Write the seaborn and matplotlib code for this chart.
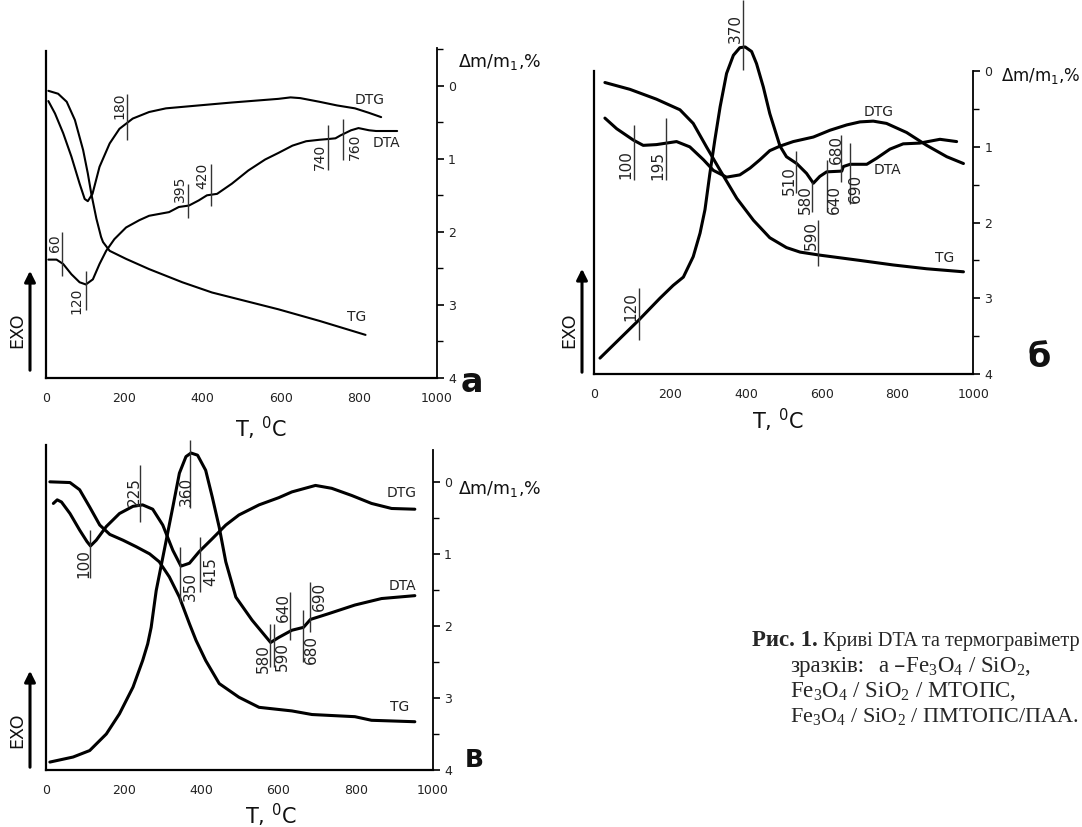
import matplotlib
matplotlib.use("Agg")
import matplotlib.pyplot as plt
import seaborn as sns

W, H = 1082, 827

# ---------------- data (T in degC, y in right-axis units, axis inverted) ----------------
# panel a : Fe3O4 / SiO2
a_tg_t = [5, 30, 52, 73, 94, 106, 115, 128, 140, 145, 162, 204, 263, 348, 424, 594, 700, 817]
a_tg_y = [0.07, 0.11, 0.22, 0.47, 0.88, 1.20, 1.48, 1.82, 2.07, 2.14, 2.26, 2.37, 2.51, 2.69, 2.83, 3.06, 3.22, 3.41]
a_dtg_t = [5, 22, 43, 64, 85, 98, 106, 118, 136, 162, 187, 221, 263, 306, 390, 475, 594, 625, 650, 699,
           744, 790, 825, 857]
a_dtg_y = [0.21, 0.38, 0.65, 0.97, 1.34, 1.55, 1.58, 1.48, 1.11, 0.79, 0.59, 0.45, 0.36, 0.31, 0.27, 0.23,
           0.18, 0.16, 0.17, 0.22, 0.27, 0.31, 0.37, 0.43]
a_dta_t = [5, 26, 43, 64, 85, 101, 119, 136, 153, 174, 204, 238, 263, 314, 339, 365, 390, 411, 437, 475,
           517, 560, 594, 630, 665, 699, 721, 740, 753, 780, 799, 826, 844, 898]
a_dta_y = [2.38, 2.38, 2.44, 2.58, 2.69, 2.72, 2.65, 2.44, 2.26, 2.10, 1.94, 1.84, 1.78, 1.73, 1.66, 1.64,
           1.57, 1.50, 1.48, 1.34, 1.16, 1.01, 0.92, 0.82, 0.76, 0.74, 0.73, 0.72, 0.68, 0.61, 0.58, 0.61,
           0.62, 0.62]
a_mark_lab = ["180", "60", "120", "395", "420", "740", "760"]
a_mark_t = [207, 41, 101, 363, 421, 721, 760]
a_mark_lo = [0.11, 2.00, 2.53, 1.34, 1.07, 0.54, 0.46]
a_mark_hi = [0.74, 2.60, 3.07, 1.81, 1.64, 1.16, 1.02]

# panel б : Fe3O4 / SiO2 / МТОПС
b_tg_t = [28, 94, 164, 226, 261, 296, 332, 376, 420, 463, 507, 543, 595, 701, 789, 877, 974]
b_tg_y = [0.15, 0.24, 0.37, 0.51, 0.69, 1.00, 1.31, 1.68, 1.97, 2.20, 2.33, 2.39, 2.43, 2.50, 2.56, 2.61, 2.65]
b_dtg_t = [28, 59, 103, 129, 164, 217, 252, 288, 314, 349, 384, 411, 437, 463, 490, 525, 578, 622, 666, 701,
           736, 771, 824, 877, 930, 974]
b_dtg_y = [0.62, 0.76, 0.91, 0.98, 0.97, 0.93, 1.00, 1.17, 1.31, 1.40, 1.37, 1.28, 1.17, 1.05, 0.99, 0.93,
           0.87, 0.78, 0.71, 0.67, 0.66, 0.69, 0.81, 0.98, 1.13, 1.22]
b_dta_t = [15, 68, 117, 173, 208, 235, 261, 279, 292, 305, 318, 332, 349, 367, 384, 398, 415, 428, 446, 463,
           490, 507, 534, 560, 578, 595, 613, 653, 657, 675, 719, 745, 780, 815, 859, 912, 956]
b_dta_y = [3.79, 3.53, 3.29, 3.00, 2.83, 2.72, 2.45, 2.14, 1.83, 1.35, 0.91, 0.47, 0.03, -0.21, -0.31, -0.32,
           -0.26, -0.10, 0.21, 0.56, 0.99, 1.13, 1.22, 1.35, 1.48, 1.39, 1.33, 1.32, 1.26, 1.23, 1.23, 1.15,
           1.03, 0.96, 0.95, 0.90, 0.93]
b_mark_lab = ["370", "100", "195", "120", "510", "580", "590", "640", "680", "690"]
b_mark_t = [393, 105, 188, 117, 531, 575, 589, 613, 651, 675]
b_mark_lo = [-0.94, 0.71, 0.62, 2.87, 1.05, 1.47, 1.97, 1.17, 0.84, 0.95]
b_mark_hi = [-0.01, 1.44, 1.44, 3.55, 1.61, 1.86, 2.58, 1.86, 1.47, 1.75]

# panel в : Fe3O4 / SiO2 / ПМТОПС/ПАА
c_tg_t = [9, 61, 86, 112, 138, 164, 198, 232, 267, 292, 318, 344, 370, 387, 412, 447, 498, 550, 635, 687,
          798, 841, 953]
c_tg_y = [0.00, 0.01, 0.11, 0.35, 0.60, 0.73, 0.81, 0.90, 1.00, 1.11, 1.32, 1.60, 1.97, 2.20, 2.48, 2.80,
          2.99, 3.13, 3.18, 3.23, 3.26, 3.31, 3.33]
c_dtg_t = [18, 28, 39, 61, 86, 105, 114, 129, 155, 189, 224, 249, 275, 301, 327, 348, 370, 395, 429, 464,
           498, 550, 601, 635, 696, 738, 790, 841, 893, 953]
c_dtg_y = [0.30, 0.25, 0.28, 0.44, 0.67, 0.83, 0.89, 0.81, 0.62, 0.44, 0.34, 0.32, 0.38, 0.60, 0.95, 1.17,
           1.13, 0.97, 0.79, 0.60, 0.46, 0.32, 0.22, 0.14, 0.05, 0.09, 0.19, 0.30, 0.37, 0.38]
c_dta_t = [9, 69, 112, 155, 189, 224, 249, 262, 271, 284, 310, 327, 344, 361, 374, 391, 412, 429, 447, 464,
           490, 532, 580, 601, 635, 665, 683, 730, 798, 867, 953]
c_dta_y = [3.89, 3.82, 3.73, 3.50, 3.22, 2.85, 2.48, 2.25, 2.02, 1.51, 0.81, 0.35, -0.12, -0.35, -0.40, -0.37,
           -0.16, 0.21, 0.63, 1.11, 1.60, 1.92, 2.23, 2.16, 2.06, 2.02, 1.91, 1.83, 1.71, 1.62, 1.58]
c_mark_lab = ["360", "225", "100", "350", "415", "580", "590", "640", "680", "690"]
c_mark_t = [372, 243, 114, 346, 397, 578, 589, 629, 664, 683]
c_mark_lo = [-0.58, -0.23, 0.67, 0.90, 0.76, 1.97, 1.97, 1.53, 1.78, 1.39]
c_mark_hi = [0.37, 0.56, 1.34, 1.67, 1.53, 2.57, 2.57, 2.20, 2.50, 2.09]

curve_names = ["DTG", "DTA", "TG"]

# ---------------- layout (label positions in data units) ----------------
a_lab_pos = [(186, 0.27), (23, 2.16), (77, 2.94), (343, 1.41), (400, 1.23), (701, 0.98), (789, 0.84)]
b_lab_pos = [(373, -0.56), (83, 1.24), (167, 1.24), (97, 3.11), (515, 1.44), (558, 1.70), (573, 2.17),
             (633, 1.69), (638, 1.04), (690, 1.55)]
c_lab_pos = [(361, 0.14), (228, 0.14), (97, 1.14), (372, 1.45), (424, 1.24), (560, 2.45), (611, 2.42),
             (613, 1.75), (685, 2.33), (706, 1.59)]
a_name_pos = [(827, 0.20), (871, 0.79), (794, 3.17)]
b_name_pos = [(751, 0.54), (773, 1.31), (925, 2.47)]
c_name_pos = [(920, 0.16), (920, 1.44), (913, 3.13)]

sns.set_theme(style="white")
plt.rcParams["font.family"] = ["DejaVu Sans"]
plt.rcParams["axes.facecolor"] = "white"

fig = plt.figure(figsize=(W / 100, H / 100), dpi=100)
fig.patch.set_facecolor("white")


def add_ax(left, top, right, bottom):
    return fig.add_axes([left / W, 1 - bottom / H, (right - left) / W, (bottom - top) / H])


def ftxt(x, y, s, **kw):
    return fig.text(x / W, 1 - y / H, s, **kw)


def panel(ax, curves, marks, lab_pos, name_pos, top, left_top, right_top, lw, fs, minor_y):
    for t, y in curves:
        sns.lineplot(x=t, y=y, ax=ax, color="black", linewidth=lw, sort=False,
                     estimator=None, legend=False)
    for ln in ax.lines:
        ln.set_clip_on(False)
    lab, mt, lo, hi = marks
    ax.vlines(mt, lo, hi, color="#333333", linewidth=1.0, clip_on=False)
    for s, (tx, ty) in zip(lab, lab_pos):
        ax.text(tx, ty, s, rotation=90, ha="center", va="center", fontsize=fs, color="#222222")
    for s, (tx, ty) in zip(curve_names, name_pos):
        ax.text(tx, ty, s, ha="center", va="center", fontsize=10, color="#222222")
    ax.set_xlim(0, 1000)
    ax.set_ylim(4, top)
    ax.spines["top"].set_visible(False)
    ax.spines["left"].set_bounds(left_top, 4)
    ax.spines["right"].set_bounds(right_top, 4)
    for sp in ["left", "bottom"]:
        ax.spines[sp].set_linewidth(1.6)
    ax.spines["right"].set_linewidth(1.3)
    for sp in ax.spines.values():
        sp.set_color("black")
    ax.yaxis.tick_right()
    ax.set_yticks([0, 1, 2, 3, 4])
    ax.set_yticks(minor_y, minor=True)
    ax.set_xticks(range(0, 1001, 200))
    ax.set_xticks(range(100, 1000, 200), minor=True)
    ax.tick_params(axis="both", which="both", direction="out", color="black",
                   labelsize=9, labelcolor="#222222")
    ax.tick_params(axis="y", which="major", length=5, width=1.2, pad=3)
    ax.tick_params(axis="y", which="minor", length=4, width=1.0)
    ax.tick_params(axis="x", which="major", length=4, width=1.2, pad=6)
    ax.tick_params(axis="x", which="minor", length=4, width=1.0)
    ax.set_xlabel("")
    ax.set_ylabel("")
    ax.grid(False)


ax_a = add_ax(46.4, 47.7, 437, 378)
panel(ax_a, [(a_tg_t, a_tg_y), (a_dtg_t, a_dtg_y), (a_dta_t, a_dta_y)],
      (a_mark_lab, a_mark_t, a_mark_lo, a_mark_hi), a_lab_pos, a_name_pos,
      -0.52, -0.48, -0.52, 1.5, 10, [-0.5, 0.5, 1.5, 2.5, 3.5])

ax_b = add_ax(594.3, 0, 973.3, 374)
panel(ax_b, [(b_tg_t, b_tg_y), (b_dtg_t, b_dtg_y), (b_dta_t, b_dta_y)],
      (b_mark_lab, b_mark_t, b_mark_lo, b_mark_hi), b_lab_pos, b_name_pos,
      -0.94, 0.0, 0.0, 2.2, 11, [0.5, 1.5, 2.5, 3.5])

ax_c = add_ax(46.4, 438.6, 433, 770)
panel(ax_c, [(c_tg_t, c_tg_y), (c_dtg_t, c_dtg_y), (c_dta_t, c_dta_y)],
      (c_mark_lab, c_mark_t, c_mark_lo, c_mark_hi), c_lab_pos, c_name_pos,
      -0.6, -0.51, -0.44, 2.2, 11, [0.5, 1.5, 2.5, 3.5])

# axis titles
dm = "Δm/m$_{\\mathregular{1}}$,%"
tc = "T, $^{\\mathregular{0}}$C"
for (x, y, fs) in [(500, 62, 12.5), (1041, 76, 12), (500, 489, 12.5)]:
    ftxt(x, y, dm, ha="center", va="center", fontsize=fs, color="#111111")
for (x, y) in [(261, 428), (778, 420), (271, 815)]:
    ftxt(x, y, tc, ha="center", va="center", fontsize=15, color="#111111")

# EXO arrows
for (xa, y0, y1, xt, yt) in [(30, 373, 268, 17, 330), (582, 375, 266, 569, 330), (30, 770, 668, 17, 730)]:
    fig.add_artist(matplotlib.patches.FancyArrowPatch(
        (xa / W, 1 - y0 / H), (xa / W, 1 - y1 / H), transform=fig.transFigure,
        arrowstyle="-|>", mutation_scale=16, linewidth=2.2, color="black"))
    ftxt(xt, yt, "EXO", rotation=90, ha="center", va="center", fontsize=12.5, color="#111111")

# panel letters
ftxt(472, 382, "а", ha="center", va="center", fontsize=24, fontweight="bold", color="#111111")
ftxt(1039, 358, "б", ha="center", va="center", fontsize=24, fontweight="bold", color="#111111")
ftxt(474, 760, "В", ha="center", va="center", fontsize=18, fontweight="bold", color="#111111")

# caption
serif = ["Liberation Serif", "DejaVu Serif"]
cap = 16.5
sub = "Fe$_{\\mathregular{3}}$O$_{\\mathregular{4}}$ / SiO$_{\\mathregular{2}}$"


def fit_right(t, limit=1079):
    # keep the line inside the picture by shrinking it a little if needed
    fig.canvas.draw()
    bb = t.get_window_extent()
    if bb.x1 > limit:
        t.set_fontsize(t.get_fontsize() * (limit - bb.x0) / (bb.x1 - bb.x0))


t1 = ftxt(752, 646, "Рис. 1.", fontsize=cap, fontweight="bold", family=serif, va="baseline")
fig.canvas.draw()
bb = t1.get_window_extent()
t1b = fig.text((bb.x1 + 5) / W, 1 - 646 / H, "Криві DTA та термогравіметр", fontsize=cap,
               family=serif, va="baseline")
fit_right(t1b)
ftxt(790, 672, "зразків:", fontsize=cap, family=serif, va="baseline")
ftxt(878, 672, "а –" + sub + ",", fontsize=cap, family=serif, va="baseline")
ftxt(790, 697, sub + " / МТОПС,", fontsize=cap, family=serif, va="baseline")
t4 = ftxt(790, 722, sub + " / ПМТОПС/ПАА.", fontsize=cap, family=serif, va="baseline")
fit_right(t4)

fig.savefig("out.png", dpi=100, facecolor="white")
